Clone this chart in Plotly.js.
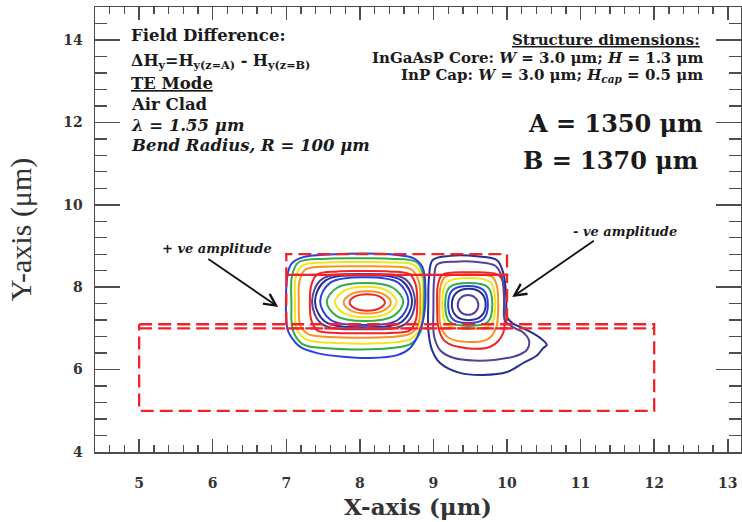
<!DOCTYPE html>
<html>
<head>
<meta charset="utf-8">
<script src="https://cdn.plot.ly/plotly-3.0.1.min.js"></script>
<style>
  html, body { margin: 0; padding: 0; background: #fff; }
  #chart { width: 742px; height: 522px; }
</style>
</head>
<body>
<div id="chart"></div>
<script>
// Waveguide outline (µm): slab, core and cap regions
const slabX = [5, 12, 12, 5, 5];
const slabY = [7.1, 7.1, 5, 5, 7.1];
const slabTopX = [5, 12];
const slabTopY = [7.0, 7.0];
const coreX = [7, 10, 10, 7, 7];
const coreY = [7.0, 7.0, 8.3, 8.3, 7.0];
const capX = [7, 10, 10, 7, 7];
const capY = [8.3, 8.3, 8.8, 8.8, 8.3];

// Field-difference contour loops, positive lobe (innermost first)
const posLoop1 = [[8.34,7.63],[8.27,7.77],[8.10,7.83],[7.93,7.77],[7.86,7.63],[7.93,7.49],[8.10,7.43],[8.27,7.49]];
const posLoop2 = [[8.42,7.63],[8.33,7.82],[8.10,7.90],[7.87,7.82],[7.78,7.63],[7.87,7.44],[8.10,7.36],[8.33,7.44]];
const posLoop3 = [[8.50,7.64],[8.38,7.91],[8.08,8.01],[7.78,7.91],[7.66,7.64],[7.78,7.37],[8.08,7.27],[8.38,7.37]];
const posLoop4 = [[8.59,7.64],[8.455,7.98],[8.07,8.10],[7.685,7.98],[7.55,7.64],[7.685,7.30],[8.07,7.18],[8.455,7.30]];
const posLoop5 = [[8.66,7.66],[8.52,8.11],[8.06,8.24],[7.60,8.11],[7.46,7.66],[7.60,7.21],[8.06,7.08],[8.52,7.21]];
const posLoop6 = [[8.71,7.66],[8.57,8.16],[8.05,8.29],[7.53,8.16],[7.39,7.66],[7.53,7.16],[8.05,7.03],[8.57,7.16]];
const posLoop7 = [[8.75,7.65],[8.62,8.19],[8.05,8.32],[7.48,8.19],[7.35,7.65],[7.48,7.11],[8.05,6.98],[8.62,7.11]];
const posLoop8 = [[8.78,7.63],[8.76,8.05],[8.68,8.31],[8.40,8.38],[8.05,8.39],[7.70,8.38],[7.42,8.31],[7.34,8.05],
                  [7.32,7.63],[7.34,7.20],[7.42,6.95],[7.70,6.89],[8.05,6.88],[8.40,6.89],[8.68,6.95],[8.76,7.20]];
const posLoop9 = [[8.82,7.63],[8.80,8.15],[8.70,8.43],[8.40,8.50],[8.00,8.51],[7.60,8.50],[7.26,8.43],[7.18,8.15],
                  [7.17,7.63],[7.19,7.08],[7.30,6.86],[7.60,6.79],[8.00,6.77],[8.40,6.79],[8.68,6.87],[8.79,7.08]];
const posLoop10 = [[8.85,7.63],[8.84,8.25],[8.73,8.54],[8.40,8.60],[8.00,8.61],[7.55,8.60],[7.22,8.53],[7.13,8.25],
                   [7.12,7.63],[7.14,7.00],[7.26,6.74],[7.60,6.65],[8.00,6.63],[8.40,6.65],[8.70,6.75],[8.81,7.00]];
const posLoop11 = [[8.87,7.63],[8.86,8.30],[8.77,8.61],[8.40,8.69],[8.00,8.70],[7.55,8.69],[7.17,8.61],[7.08,8.30],
                   [7.07,7.63],[7.09,6.95],[7.22,6.62],[7.60,6.51],[8.00,6.49],[8.40,6.52],[8.70,6.63],[8.83,6.95]];
const posLoop12 = [[8.89,8.00],[8.85,8.49],[8.72,8.71],[8.51,8.78],[7.83,8.81],[7.23,8.73],[7.08,8.59],[7.02,8.34],
                   [7.01,7.03],[7.05,6.84],[7.19,6.55],[7.42,6.40],[7.77,6.31],[8.14,6.28],[8.51,6.35],[8.68,6.52],
                   [8.78,6.79],[8.86,7.20]];

// Negative lobe (innermost first)
const negLoop1 = [[9.61,7.57],[9.57,7.74],[9.47,7.81],[9.37,7.74],[9.33,7.57],[9.37,7.40],[9.47,7.33],[9.57,7.40]];
const negLoop2 = [[9.71,7.58],[9.65,7.86],[9.48,7.96],[9.31,7.86],[9.25,7.58],[9.31,7.30],[9.48,7.20],[9.65,7.30]];
const negLoop3 = [[9.74,7.58],[9.68,7.93],[9.47,8.03],[9.26,7.93],[9.20,7.58],[9.26,7.23],[9.47,7.13],[9.68,7.23]];
const negLoop4 = [[9.80,7.58],[9.74,8.00],[9.48,8.10],[9.22,8.00],[9.16,7.58],[9.22,7.16],[9.48,7.06],[9.74,7.16]];
const negLoop5 = [[9.84,7.60],[9.78,8.11],[9.48,8.22],[9.18,8.11],[9.12,7.60],[9.18,7.09],[9.48,6.99],[9.78,7.09]];
const negLoop6 = [[9.88,7.60],[9.86,8.05],[9.80,8.25],[9.48,8.31],[9.16,8.25],[9.10,8.05],[9.08,7.60],[9.10,7.05],
                  [9.20,6.78],[9.48,6.67],[9.74,6.74],[9.85,7.00]];
const negLoop7 = [[9.96,7.60],[9.95,8.10],[9.88,8.30],[9.48,8.36],[9.12,8.30],[9.06,8.05],[9.05,7.60],[9.07,7.00],
                  [9.16,6.68],[9.45,6.52],[9.78,6.56],[9.95,6.90]];
const negLoop8 = [[9.05,8.55],[9.30,8.62],[9.60,8.61],[9.84,8.52],[9.93,8.25],[9.96,7.70],[9.97,7.20],[10.08,7.03],
                  [10.22,6.90],[10.30,6.70],[10.27,6.48],[10.12,6.33],[9.85,6.24],[9.55,6.22],[9.28,6.28],[9.10,6.45],
                  [9.01,6.80],[9.00,7.50],[9.01,8.20]];
const negLoop9 = [[8.99,8.66],[9.23,8.76],[9.59,8.75],[9.86,8.66],[9.95,8.34],[9.99,7.76],[10.00,7.28],[10.07,7.13],
                  [10.27,6.96],[10.45,6.77],[10.54,6.60],[10.49,6.52],[10.41,6.35],[10.22,6.16],[10.00,5.94],[9.67,5.87],
                  [9.36,5.92],[9.09,6.16],[8.98,6.48],[8.93,6.96],[8.93,7.62],[8.94,8.25]];

const posLoops = [posLoop1, posLoop2, posLoop3, posLoop4, posLoop5, posLoop6,
                  posLoop7, posLoop8, posLoop9, posLoop10, posLoop11, posLoop12];
const negLoops = [negLoop1, negLoop2, negLoop3, negLoop4, negLoop5, negLoop6,
                  negLoop7, negLoop8, negLoop9];

// Arrow endpoints (tail -> head) in µm
const posArrowTail = [5.92, 8.71];
const posArrowHead = [6.89, 7.52];
const negArrowTail = [11.20, 9.15];
const negArrowHead = [10.07, 7.76];
const posLabelAt = [6.06, 8.95];
const negLabelAt = [11.60, 9.34];

// Contour level colours
const C = {
  red: '#ee2624', orange: '#f7931e', yellow: '#f3e51a', green: '#2fae4a',
  blue: '#2d3fe0', navy: '#262f92', purple: '#55409a'
};
const posColors = [C.red, C.orange, C.yellow, C.green, C.blue, C.navy,
                   C.purple, C.red, C.orange, C.yellow, C.green, C.blue];
const negColors = [C.purple, C.navy, C.blue, C.green, C.yellow, C.orange,
                   C.red, C.purple, C.navy];

const SERIF = 'DejaVu Serif, Liberation Serif, serif';
const traces = [];

// Closed contour: repeating the first vertex makes Plotly draw a closed spline
function loopTrace(pts, color) {
  const closed = pts.concat([pts[0]]);
  return {
    type: 'scatter', mode: 'lines',
    x: closed.map(p => p[0]), y: closed.map(p => p[1]),
    line: { color: color, width: 2, shape: 'spline', smoothing: 1 },
    hoverinfo: 'skip', showlegend: false
  };
}
posLoops.forEach((l, i) => traces.push(loopTrace(l, posColors[i])));
negLoops.forEach((l, i) => traces.push(loopTrace(l, negColors[i])));

function outline(x, y) {
  return {
    type: 'scatter', mode: 'lines', x: x, y: y,
    line: { color: '#f0232b', width: 2.3, dash: '13px,6px' },
    hoverinfo: 'skip', showlegend: false
  };
}
traces.push(outline(slabX, slabY));
traces.push(outline(slabTopX, slabTopY));
traces.push(outline(coreX, coreY));
traces.push(outline(capX, capY));

function textNote(text, x, y, anchor, size) {
  return {
    xref: 'paper', yref: 'paper', x: x, y: y, xanchor: anchor, yanchor: 'middle',
    text: text, showarrow: false,
    font: { family: SERIF, size: size, color: '#1a1a1a' }
  };
}

const annotations = [
  textNote('<b>Field Difference:</b>', 0.053, 0.935, 'left', 16.5),
  textNote('<b>ΔH<sub>y</sub>=H<sub>y(z=A)</sub> - H<sub>y(z=B)</sub></b>', 0.053, 0.878, 'left', 16),
  textNote('<b><u>TE Mode</u></b>', 0.053, 0.829, 'left', 16.5),
  textNote('<b>Air Clad</b>', 0.053, 0.780, 'left', 16.5),
  textNote('<b><i>λ = 1.55 μm</i></b>', 0.053, 0.733, 'left', 16.5),
  textNote('<b><i>Bend Radius, R = 100 μm</i></b>', 0.053, 0.688, 'left', 16.5),

  textNote('<b><u>Structure dimensions:</u></b>', 0.940, 0.926, 'right', 15),
  textNote('<b>InGaAsP Core: <i>W</i> = 3.0 μm; <i>H</i> = 1.3 μm</b>', 0.944, 0.886, 'right', 15),
  textNote('<b>InP Cap: <i>W</i> = 3.0 μm; <i>H<sub>cap</sub></i> = 0.5 μm</b>', 0.944, 0.846, 'right', 15),
  textNote('<b>A = 1350 μm</b>', 0.944, 0.739, 'right', 24),
  textNote('<b>B = 1370 μm</b>', 0.937, 0.656, 'right', 24),

  {
    xref: 'x', yref: 'y', x: posLabelAt[0], y: posLabelAt[1], showarrow: false,
    text: '<b><i>+ ve amplitude</i></b>',
    font: { family: SERIF, size: 13, color: '#1a1a1a' }
  },
  {
    xref: 'x', yref: 'y', x: negLabelAt[0], y: negLabelAt[1], showarrow: false,
    text: '<b><i>- ve amplitude</i></b>',
    font: { family: SERIF, size: 13, color: '#1a1a1a' }
  },
  {
    xref: 'x', yref: 'y', axref: 'x', ayref: 'y',
    x: posArrowHead[0], y: posArrowHead[1], ax: posArrowTail[0], ay: posArrowTail[1],
    text: '', showarrow: true, arrowhead: 5, arrowsize: 1.3, arrowwidth: 1.8, arrowcolor: '#111'
  },
  {
    xref: 'x', yref: 'y', axref: 'x', ayref: 'y',
    x: negArrowHead[0], y: negArrowHead[1], ax: negArrowTail[0], ay: negArrowTail[1],
    text: '', showarrow: true, arrowhead: 5, arrowsize: 1.3, arrowwidth: 1.8, arrowcolor: '#111'
  }
];

const axisColor = '#4d4d4d';
const layout = {
  width: 742, height: 522,
  margin: { l: 95, r: 1, t: 7, b: 70 },
  paper_bgcolor: '#fff', plot_bgcolor: '#fff',
  showlegend: false,
  xaxis: {
    range: [4.4, 13.18], dtick: 1, tick0: 0,
    ticks: 'inside', ticklen: 13, tickwidth: 1.5, tickcolor: axisColor,
    minor: { dtick: 0.2, ticks: 'inside', ticklen: 7, tickwidth: 1.3, tickcolor: axisColor, showgrid: false },
    showline: true, linecolor: axisColor, linewidth: 1.5, mirror: 'allticks',
    showgrid: false, zeroline: false, ticklabelstandoff: 18,
    tickfont: { family: SERIF, size: 14, color: '#333', weight: 'bold' },
    title: { text: '<b>X-axis (μm)</b>', standoff: 8,
             font: { family: SERIF, size: 23, color: '#333' } }
  },
  yaxis: {
    range: [4, 14.8], dtick: 2, tick0: 0,
    ticks: 'inside', ticklen: 25, tickwidth: 1.5, tickcolor: axisColor,
    minor: { dtick: 0.4, ticks: 'inside', ticklen: 12, tickwidth: 1.3, tickcolor: axisColor, showgrid: false },
    showline: true, linecolor: axisColor, linewidth: 1.5, mirror: 'allticks',
    showgrid: false, zeroline: false, ticklabelstandoff: 8,
    tickfont: { family: SERIF, size: 14, color: '#333', weight: 'bold' },
    title: { text: 'Y-axis (μm)', standoff: 22,
             font: { family: 'Liberation Serif, serif', size: 30, color: '#333' } }
  },
  annotations: annotations
};

Plotly.newPlot('chart', traces, layout, { staticPlot: true, displayModeBar: false });
</script>
</body>
</html>
